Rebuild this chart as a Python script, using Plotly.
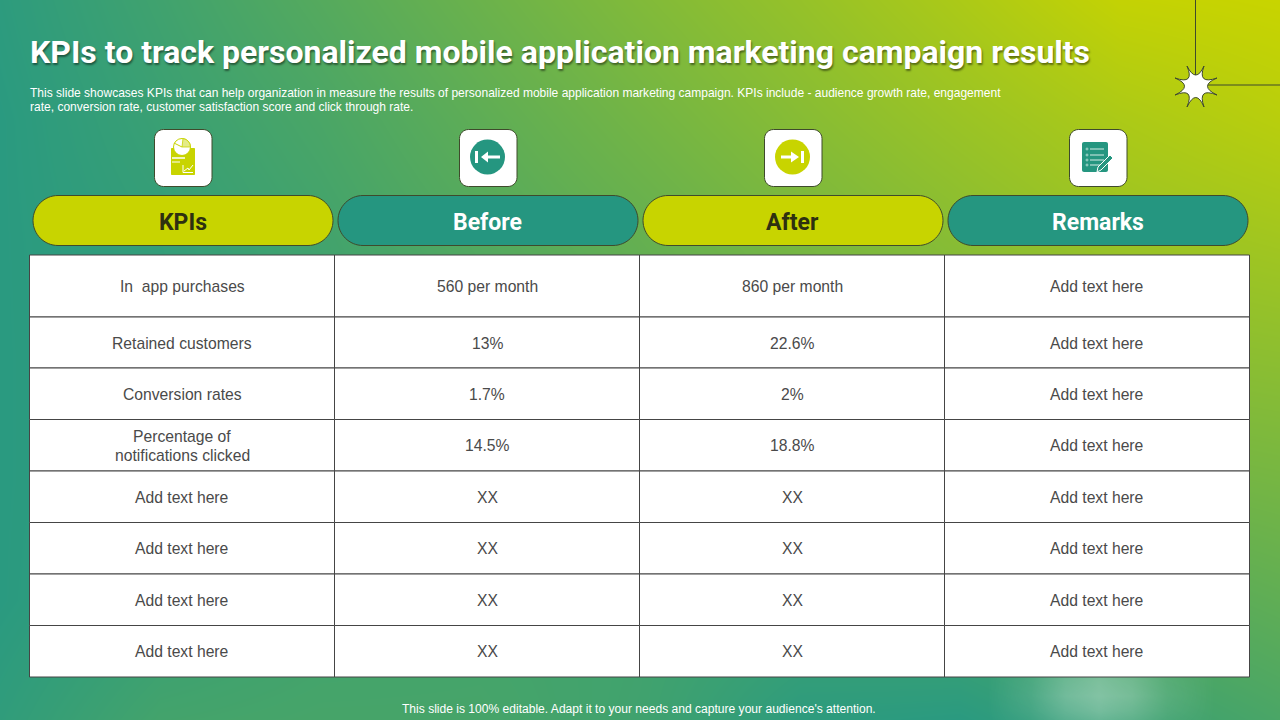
import plotly.graph_objects as go

TITLE = "KPIs to track personalized mobile application marketing campaign results"
SUBTITLE = [
    "This slide showcases KPIs that can help organization in measure the results of personalized mobile application marketing campaign. KPIs include - audience growth rate, engagement",
    "rate, conversion rate, customer satisfaction score and click through rate.",
]
FOOTER = "This slide is 100% editable. Adapt it to your needs and capture your audience's attention."

HEADERS = ["KPIs", "Before", "After", "Remarks"]
KPIS = ["In\u00a0\u00a0app purchases", "Retained customers", "Conversion rates",
        "Percentage of<br>notifications clicked", "Add text here", "Add text here",
        "Add text here", "Add text here"]
BEFORE = ["560 per month", "13%", "1.7%", "14.5%", "XX", "XX", "XX", "XX"]
AFTER = ["860 per month", "22.6%", "2%", "18.8%", "XX", "XX", "XX", "XX"]
REMARKS = ["Add text here"] * 8

# page layout, in pixels
COL_EDGES = [29.5, 334.5, 639.5, 944.5, 1249.5]
ROW_EDGES = [255, 317, 368, 419.5, 471, 522.5, 574, 625.5, 677]
PILL_LEFT = [33, 338, 643, 948]
BOX_LEFT = [154, 459, 764, 1069]

TEAL = "#259680"
LIME = "#c8d400"
DARK = "#3f4a2c"
GRID = "#454545"
INK = "#4a4a4a"

# background gradient, 0 = teal, 1 = lime
BG_X = [0, 160, 320, 480, 640, 800, 960, 1120, 1280]
BG_Y = [0, 120, 240, 360, 480, 600, 720]
BG_Z = [
    [0.02, 0.14, 0.27, 0.41, 0.55, 0.68, 0.82, 0.97, 1.00],
    [0.00, 0.10, 0.20, 0.33, 0.46, 0.59, 0.71, 0.82, 0.90],
    [0.00, 0.06, 0.15, 0.26, 0.37, 0.49, 0.60, 0.71, 0.76],
    [0.00, 0.04, 0.12, 0.20, 0.30, 0.40, 0.50, 0.59, 0.62],
    [0.00, 0.04, 0.12, 0.18, 0.22, 0.28, 0.36, 0.44, 0.48],
    [0.00, 0.08, 0.14, 0.16, 0.15, 0.12, 0.16, 0.26, 0.34],
    [0.04, 0.16, 0.18, 0.18, 0.14, 0.02, 0.00, 0.10, 0.20],
]
GLOW_X = [985, 1030, 1065, 1098, 1131, 1166, 1215]
GLOW_Y = [655, 680, 695, 710, 720]
GLOW_Z = [
    [0, 0.12, 0.38, 0.55, 0.38, 0.12, 0],
    [0, 0.28, 0.70, 0.90, 0.70, 0.28, 0],
    [0, 0.32, 0.80, 1.00, 0.80, 0.32, 0],
    [0, 0.26, 0.65, 0.85, 0.65, 0.26, 0],
    [0, 0.18, 0.50, 0.65, 0.50, 0.18, 0],
]


def round_rect(x0, y0, x1, y1, r):
    k = r * 0.448
    return (f"M{x0+r},{y0} L{x1-r},{y0} C{x1-k},{y0} {x1},{y0+k} {x1},{y0+r} "
            f"L{x1},{y1-r} C{x1},{y1-k} {x1-k},{y1} {x1-r},{y1} "
            f"L{x0+r},{y1} C{x0+k},{y1} {x0},{y1-k} {x0},{y1-r} "
            f"L{x0},{y0+r} C{x0},{y0+k} {x0+k},{y0} {x0+r},{y0} Z")


def add_path(fig, path, fill=None, color=None, width=0):
    fig.add_shape(type="path", path=path, fillcolor=fill or "rgba(0,0,0,0)",
                  line=dict(color=color or "rgba(0,0,0,0)", width=width))


def add_seg(fig, x0, y0, x1, y1, color, width=1):
    fig.add_shape(type="line", x0=x0, y0=y0, x1=x1, y1=y1, line=dict(color=color, width=width))


def add_circle(fig, cx, cy, r, fill, color=None, width=0):
    fig.add_shape(type="circle", x0=cx - r, y0=cy - r, x1=cx + r, y1=cy + r, fillcolor=fill,
                  line=dict(color=color or "rgba(0,0,0,0)", width=width))


def add_text(fig, x, y, text, size, color, family="Liberation Sans", anchor="center", weight=None, shadow=None):
    font = dict(size=size, color=color, family=family)
    if weight:
        font["weight"] = weight
    if shadow:
        font["shadow"] = shadow
    fig.add_annotation(x=x, y=y, text=text, showarrow=False, xanchor=anchor, yanchor="middle",
                       align="center", font=font)


fig = go.Figure()
fig.add_trace(go.Heatmap(x=BG_X, y=BG_Y, z=BG_Z, zsmooth="best", zmin=0, zmax=1, showscale=False,
                         colorscale=[[0, "#2a9a80"], [1, LIME]], hoverinfo="skip"))
fig.add_trace(go.Heatmap(x=GLOW_X, y=GLOW_Y, z=GLOW_Z, zsmooth="best", zmin=0, zmax=1, showscale=False,
                         colorscale=[[0, "rgba(255,255,255,0)"], [1, "rgba(255,255,255,0.36)"]],
                         hoverinfo="skip"))

# corner ornament
add_seg(fig, 1195.5, 0, 1195.5, 76, DARK)
add_seg(fig, 1208, 85, 1280, 85, DARK)
STAR_TIPS = [(1187, 66), (1204, 66), (1217, 78), (1217, 95), (1204, 107), (1187, 107), (1175, 95), (1175, 78)]
STAR_DIPS = [(1196, 84), (1197, 85), (1198, 86), (1197, 87), (1196, 88), (1195, 87), (1194, 86), (1195, 85)]
star = f"M{STAR_TIPS[0][0]},{STAR_TIPS[0][1]} "
for i in range(8):
    dip = STAR_DIPS[i]
    tip = STAR_TIPS[(i + 1) % 8]
    star += f"Q{dip[0]},{dip[1]} {tip[0]},{tip[1]} "
add_path(fig, star + "Z", "white", DARK, 1)

# table
for i in range(4):
    for j in range(8):
        fig.add_shape(type="rect", x0=COL_EDGES[i], x1=COL_EDGES[i + 1], y0=ROW_EDGES[j], y1=ROW_EDGES[j + 1],
                      fillcolor="white", line=dict(color=GRID, width=1))

# header pills and icon boxes
for i, name in enumerate(HEADERS):
    x0 = PILL_LEFT[i]
    add_path(fig, round_rect(x0, 195.5, x0 + 300, 245.5, 25), LIME if i % 2 == 0 else TEAL, DARK, 1)
    add_text(fig, x0 + 149.5, 222, name, 23, "#2e3010" if i % 2 == 0 else "white",
             family="Roboto", weight=700)
    bx = BOX_LEFT[i]
    add_path(fig, round_rect(bx + 0.5, 129.5, bx + 58, 186.5, 9), "white", DARK, 1)

# icon 1, report with pie
add_path(fig, round_rect(171, 148, 195, 175, 1), LIME)
add_circle(fig, 182, 147, 8.5, "white", LIME, 1)
add_path(fig, "M182,147 L183,138.5 Q190,140 190.5,147 Z", "#e4eb88", LIME, 0.8)
add_seg(fig, 182, 147, 174, 143, LIME)
add_seg(fig, 172, 158, 185, 158, "white", 1.5)
add_seg(fig, 172, 162, 180, 162, "white", 1)
add_path(fig, "M183,165 L183,172.5 L193,172.5", None, "white", 1)
add_path(fig, "M184,171 L188,168 L189,170 L193,165", None, "white", 1)

# icons 2 and 3, arrows in circles
add_circle(fig, 487.5, 157, 17.5, TEAL)
add_seg(fig, 476.5, 151, 476.5, 163, "white", 3)
add_path(fig, "M481,157 L488,151.5 L488,155.5 L500,155.5 L500,158.5 L488,158.5 L488,162.5 Z", "white")
add_circle(fig, 792.5, 157, 17.5, LIME)
add_seg(fig, 802.5, 151, 802.5, 163, "white", 3)
add_path(fig, "M799,157 L791,151.5 L791,155.5 L781,155.5 L781,158.5 L791,158.5 L791,162.5 Z", "white")

# icon 4, checklist with pen
add_path(fig, round_rect(1082, 142, 1108, 172, 2), TEAL)
for ly in [149, 155, 160, 165]:
    add_seg(fig, 1090, ly, 1104, ly, "#d5ece6", 1)
    add_circle(fig, 1087, ly, 1, "rgba(0,0,0,0)", "#d5ece6", 0.7)
add_path(fig, "M1097,172 L1098,167 L1110,155 L1113,158 L1101,170 Z", TEAL, "white", 1)

# titles
add_text(fig, 28, 52, TITLE, 32, "white", family="Roboto", anchor="left", weight=700,
         shadow="1px 2px 2px rgba(0,0,0,0.45)")
add_text(fig, 28, 93, SUBTITLE[0], 12.02, "white", anchor="left")
add_text(fig, 28, 107, SUBTITLE[1], 12.02, "white", anchor="left")
add_text(fig, 639, 708.5, FOOTER, 12.07, "white")

# cell text, two line cells are set tighter than the browser default
for i, col in enumerate([KPIS, BEFORE, AFTER, REMARKS]):
    cx = (COL_EDGES[i] + COL_EDGES[i + 1]) / 2
    for j, txt in enumerate(col):
        cy = (ROW_EDGES[j] + ROW_EDGES[j + 1]) / 2 + 0.6
        lines = txt.split("<br>")
        for k, line in enumerate(lines):
            add_text(fig, cx, cy + (k - (len(lines) - 1) / 2) * 19, line, 15.7, INK)

fig.update_xaxes(range=[0, 1280], visible=False, fixedrange=True)
fig.update_yaxes(range=[720, 0], visible=False, fixedrange=True)
fig.update_layout(width=1280, height=720, margin=dict(l=0, r=0, t=0, b=0), showlegend=False,
                  paper_bgcolor="#2a9a80", plot_bgcolor="#2a9a80", hovermode=False)

fig.write_html("out.html", config={"displayModeBar": False},
               post_script="document.body.style.margin='0';document.documentElement.style.overflow='hidden';")
